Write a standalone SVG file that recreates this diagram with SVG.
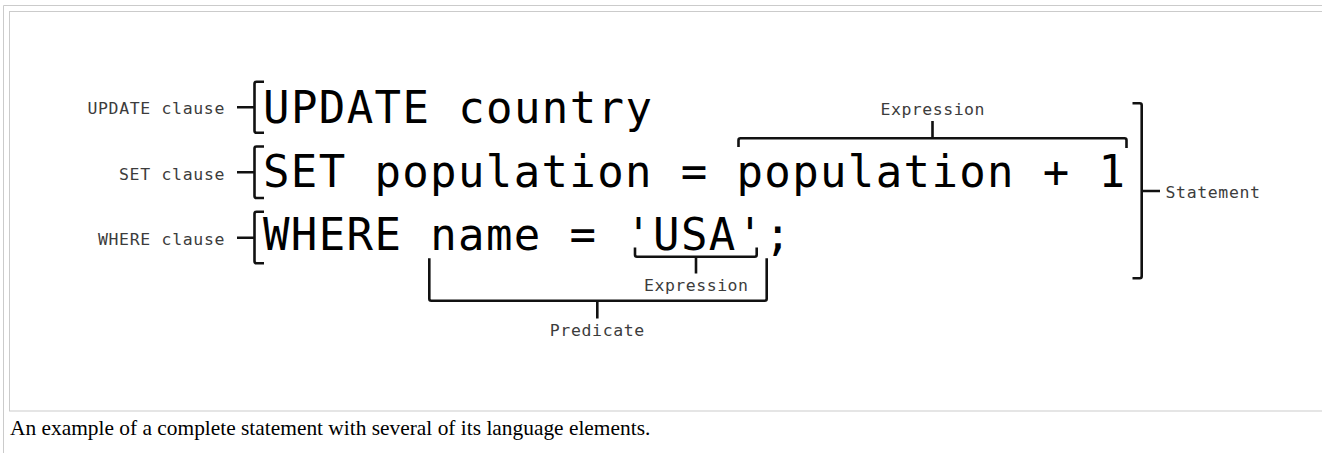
<svg xmlns="http://www.w3.org/2000/svg" width="1322" height="453" viewBox="0 0 1322 453">
<style>
.frame{fill:none;stroke:#cbcbcb;stroke-width:1}
.code{font-family:"DejaVu Sans Mono","Liberation Mono",monospace;font-size:44px;fill:#000}
.lbl{font-family:"DejaVu Sans Mono","Liberation Mono",monospace;font-size:16.5px;fill:#3c3c3c}
.br{fill:none;stroke:#111;stroke-width:2.6;stroke-linejoin:round;stroke-linecap:butt}
.cap{font-family:"Liberation Serif","Times New Roman",serif;font-size:21.4px;fill:#000}
</style>
<rect width="1322" height="453" fill="#fff"/>
<g id="frame">
<path class="frame" d="M3.5,453 V5.5 H1322"/>
<rect class="frame" x="9.5" y="11.5" width="1330" height="399.5"/>
</g>
<g id="code">
<text id="line-update" class="code" x="263" y="123.3" textLength="389" lengthAdjust="spacing">UPDATE country</text>
<text id="line-set" class="code" x="263" y="186.8" textLength="862" lengthAdjust="spacing">SET population = population + 1</text>
<text id="line-where" class="code" x="263" y="250.2" textLength="528" lengthAdjust="spacing">WHERE name = 'USA';</text>
</g>
<g id="connectors">
<path class="br" d="M264,81.7 H256.5 Q254.5,81.7 254.5,83.7 V130.7 Q254.5,132.7 256.5,132.7 H264 M237,107.2 H254.5"/>
<path class="br" d="M264,146.5 H256.5 Q254.5,146.5 254.5,148.5 V196 Q254.5,198 256.5,198 H264 M237,172.3 H254.5"/>
<path class="br" d="M264,211.7 H256.5 Q254.5,211.7 254.5,213.7 V261.3 Q254.5,263.3 256.5,263.3 H264 M237,237.8 H254.5"/>
<path class="br" d="M738.5,147 V140.3 Q738.5,138.3 740.5,138.3 H1124.5 Q1126.5,138.3 1126.5,140.3 V148 M932.5,138.3 V121"/>
<path class="br" d="M1132.5,103.3 H1139.7 Q1141.7,103.3 1141.7,105.3 V276.3 Q1141.7,278.3 1139.7,278.3 H1132.5 M1141.7,191 H1160"/>
<path class="br" d="M635,247.5 V254.7 Q635,256.7 637,256.7 H754.7 Q756.7,256.7 756.7,254.7 V247.5 M696,256.7 V273.5"/>
<path class="br" d="M429.3,258.3 V298.7 Q429.3,300.7 431.3,300.7 H764.7 Q766.7,300.7 766.7,298.7 V258.3 M597.3,300.7 V318.5"/>
</g>
<g id="label-update-clause"><text class="lbl" x="87.4" y="114" textLength="137" lengthAdjust="spacing">UPDATE clause</text></g>
<g id="label-set-clause"><text class="lbl" x="119" y="179.5" textLength="105.5" lengthAdjust="spacing">SET clause</text></g>
<g id="label-where-clause"><text class="lbl" x="97.9" y="245" textLength="126.6" lengthAdjust="spacing">WHERE clause</text></g>
<g id="label-expression-top"><text class="lbl" x="880.5" y="115" textLength="104" lengthAdjust="spacing">Expression</text></g>
<g id="label-statement"><text class="lbl" x="1165.5" y="198" textLength="94.5" lengthAdjust="spacing">Statement</text></g>
<g id="label-expression-bottom"><text class="lbl" x="644" y="290.5" textLength="104" lengthAdjust="spacing">Expression</text></g>
<g id="label-predicate"><text class="lbl" x="549.8" y="336" textLength="94.5" lengthAdjust="spacing">Predicate</text></g>
<g id="caption"><text class="cap" x="10" y="435">An example of a complete statement with several of its language elements.</text></g>
</svg>
